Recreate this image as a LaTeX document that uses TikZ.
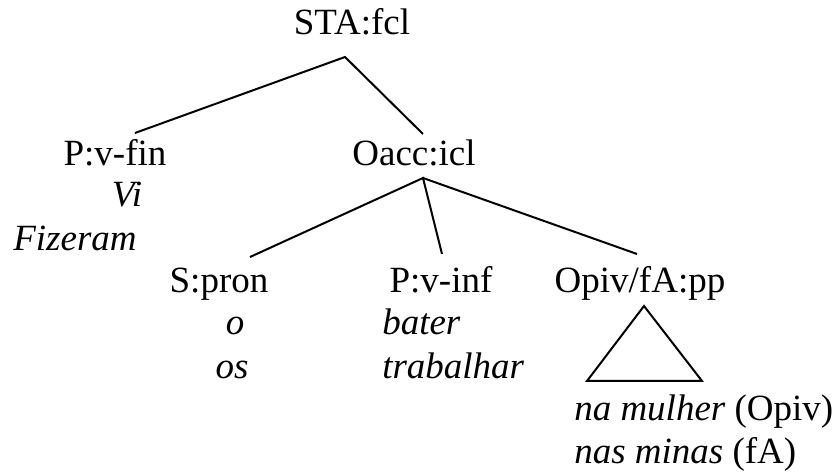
\documentclass[tikz,border=0pt]{standalone}
\usepackage{fontspec}
\setmainfont{Liberation Serif}
\usepackage{tikz}
\usetikzlibrary{positioning}

\begin{document}
\begin{tikzpicture}[x=0.75pt,y=-0.75pt,
    cat/.style={inner sep=0pt,anchor=base,font=\fontsize{27.75}{32}\selectfont},
    lex/.style={cat,font=\fontsize{27.75}{32}\selectfont\itshape},
    branch/.style={line width=1.5pt}]
        \useasboundingbox (0,0) rectangle (838,473);
        % categories
        \node[cat] (sta) at (352,35) {STA:fcl};
        \node[cat] (pfin) at (115,166) {P:v-fin};
        \node[cat] (oacc) at (414,166) {Oacc:icl};
        \node[cat] (spron) at (219,293) {S:pron};
        \node[cat] (pinf) at (441,293) {P:v-inf};
        \node[cat] (opiv) at (640,293) {Opiv/fA:pp};
        % words
        \node[lex] (vi) at (127,207) {Vi};
        \node[lex] (fizeram) at (75,251) {Fizeram};
        \node[lex] (o) at (235,335) {o};
        \node[lex] (os) at (232,379) {os};
        \node[lex,anchor=base west] (bater) at (382,335) {bater};
        \node[lex,anchor=base west] (trabalhar) at (382,379) {trabalhar};
        \node[lex,anchor=base west] (namulher) at (574,421) {na mulher \upshape(Opiv)};
        \node[lex,anchor=base west] (nasminas) at (574,463) {nas minas \upshape(fA)};
        % branches
        \draw[branch] ([shift={(20,-33)}]pfin.base) -- ([shift={(-7,22)}]sta.base) -- ([shift={(9,-32)}]oacc.base);
        \draw[branch] ([shift={(31,-36)}]spron.base) -- ([shift={(9,12)}]oacc.base) -- ([shift={(1,-39)}]pinf.base);
        \draw[branch] ([shift={(9,12)}]oacc.base) -- ([shift={(-3,-39)}]opiv.base);
        \draw[branch,line join=miter] ([shift={(4,13)}]opiv.base) -- ([shift={(-53,88)}]opiv.base) -- ([shift={(62,88)}]opiv.base) -- cycle;
      \end{tikzpicture}
\end{document}
